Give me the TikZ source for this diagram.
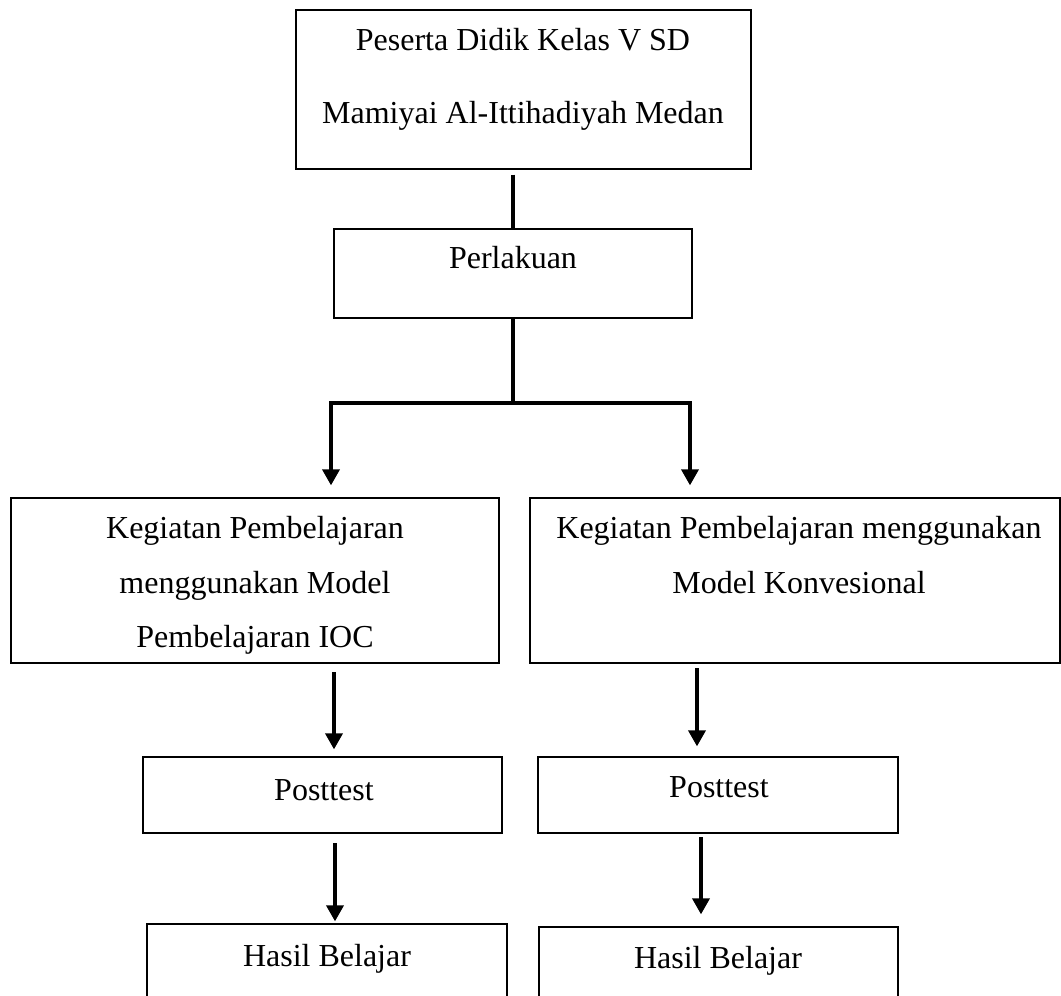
\documentclass[tikz,border=0pt]{standalone}
\usepackage{fontspec}
\setmainfont{Liberation Serif}
\usetikzlibrary{arrows.meta}
\begin{document}
\begin{tikzpicture}[x=1pt,y=-1pt,
  box/.style={draw=black,line width=1.3pt,rectangle,inner sep=0pt},
  txt/.style={anchor=base,inner sep=0pt,font=\fontsize{32}{38}\selectfont},
  conn/.style={line width=4pt},
  arr/.style={line width=3.5pt,-{Triangle[width=17pt,length=16pt]}}]
\useasboundingbox (0,0) rectangle (1061,996);
\clip (0,0) rectangle (1061,996);
% boxes
\node[box,minimum width=455pt,minimum height=159pt] (top) at (523.5,89.5) {};
\node[box,minimum width=358pt,minimum height=89pt] (perl) at (513,273.5) {};
\node[box,minimum width=488pt,minimum height=165pt] (kl) at (255,580.5) {};
\node[box,minimum width=530pt,minimum height=165pt] (kr) at (795,580.5) {};
\node[box,minimum width=359pt,minimum height=76pt] (pl) at (322.5,795) {};
\node[box,minimum width=360pt,minimum height=76pt] (pr) at (718,795) {};
\node[box,minimum width=360pt,minimum height=160pt] (hl) at (327,1004) {};
\node[box,minimum width=359pt,minimum height=160pt] (hr) at (718.5,1007) {};
% texts
\node[txt] (t1) at (523,50) {Peserta Didik Kelas V SD};
\node[txt] (t2) at (523,123) {Mamiyai Al-Ittihadiyah Medan};
\node[txt] (t3) at (513,268) {Perlakuan};
\node[txt] (t4) at (255,538) {Kegiatan Pembelajaran};
\node[txt] (t5) at (255,593) {menggunakan Model};
\node[txt] (t6) at (255,647) {Pembelajaran IOC};
\node[txt] (t7) at (799,538) {Kegiatan Pembelajaran menggunakan};
\node[txt] (t8) at (799,593) {Model Konvesional};
\node[txt] (t9) at (324,800) {Posttest};
\node[txt] (t10) at (719,797) {Posttest};
\node[txt] (t11) at (327,966) {Hasil Belajar};
\node[txt] (t12) at (718,968) {Hasil Belajar};
% connectors
\coordinate (hb) at (513,403);
\coordinate (hlft) at (331,403);
\coordinate (hrgt) at (690,403);
\draw[conn] ([yshift=-5pt]top.south -| perl.north) -- (perl.north);
\draw[conn] (perl.south) -- (hb);
\draw[conn,line cap=rect] (hlft) -- (hrgt);
\draw[arr] (hlft) -- ([yshift=12pt]hlft |- kl.north);
\draw[arr] (hrgt) -- ([yshift=12pt]hrgt |- kr.north);
\coordinate (a1) at (334,672);
\coordinate (a2) at (697,668);
\coordinate (a3) at (335,843);
\coordinate (a4) at (701,837);
\draw[arr] (a1) -- ([yshift=7pt]a1 |- pl.north);
\draw[arr] (a2) -- ([yshift=10pt]a2 |- pr.north);
\draw[arr] (a3) -- ([yshift=2pt]a3 |- hl.north);
\draw[arr] (a4) -- ([yshift=12pt]a4 |- hr.north);
\end{tikzpicture}
\end{document}
